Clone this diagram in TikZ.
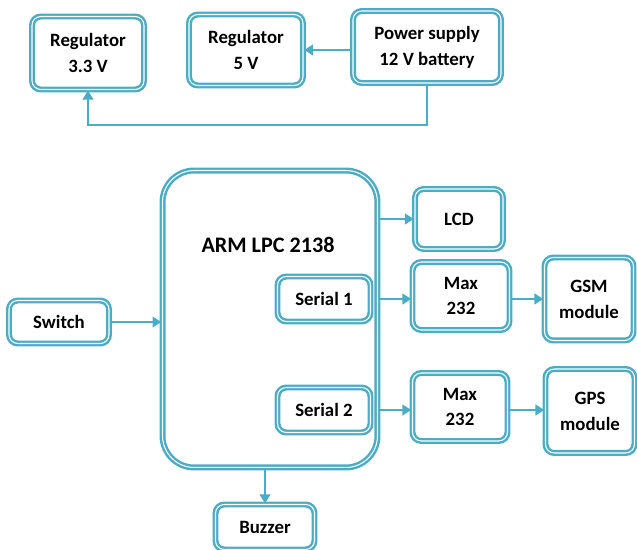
\documentclass[tikz,border=0pt]{standalone}
\usepackage{fontspec}
\setmainfont{Carlito}
\usetikzlibrary{arrows.meta}
\definecolor{boxteal}{RGB}{75,172,198}
\begin{document}
\begin{tikzpicture}[x=0.02cm, y=-0.02cm, font=\fontsize{10.7}{14.7}\selectfont\bfseries,
  blk/.style={draw=boxteal, line width=1.4pt, double=white, double distance=0.6pt, rounded corners=5pt, align=center, inner sep=0pt},
  arr/.style={draw=boxteal, line width=1.5pt, -{Triangle[length=5pt,width=6pt]}}]
\useasboundingbox (0,0) rectangle (637,550);
\node[blk, minimum width=2.24cm, minimum height=1.46cm] (r33) at (88,53) {Regulator\\3.3 V};
\node[blk, minimum width=2.28cm, minimum height=1.42cm] (r5) at (246,50) {Regulator\\5 V};
\node[blk, minimum width=2.96cm, minimum height=1.44cm] (ps) at (427,47) {Power supply\\12 V battery};
\node[blk, rounded corners=18pt, minimum width=4.30cm, minimum height=5.94cm] (arm) at (270,319) {};
\node[font=\fontsize{12.6}{15}\selectfont\bfseries] (armtxt) at (268,245) {ARM LPC 2138};
\node[blk, minimum width=1.86cm, minimum height=0.90cm] (s1) at (324,299) {Serial 1};
\node[blk, minimum width=1.86cm, minimum height=0.90cm] (s2) at (324,410) {Serial 2};
\node[blk, minimum width=2.00cm, minimum height=0.86cm] (sw) at (59,322) {Switch};
\node[blk, minimum width=1.98cm, minimum height=0.90cm] (bz) at (265,527) {Buzzer};
\node[blk, minimum width=1.76cm, minimum height=1.20cm] (lcd) at (459,219) {LCD};
\node[blk, minimum width=1.94cm, minimum height=1.36cm] (m1) at (461,296) {Max\\232};
\node[blk, minimum width=1.78cm, minimum height=1.66cm] (gsm) at (589,299) {GSM\\module};
\node[blk, minimum width=1.90cm, minimum height=1.36cm] (m2) at (460,407) {Max\\232};
\node[blk, minimum width=1.78cm, minimum height=1.68cm] (gps) at (590,411) {GPS\\module};
\coordinate (bus) at (88,125);
\draw[arr] (ps.west |- r5) -- (r5.east);
\draw[arr] (ps.south) |- (bus) -- (r33.south);
\draw[arr] (sw) -- (arm.west |- sw);
\draw[arr] (bz |- arm.south) -- (bz);
\draw[arr] (arm.east |- lcd) -- (lcd);
\draw[arr] (arm.east |- s1) -- (m1.west |- s1);
\draw[arr] (m1.east |- s1) -- (gsm.west |- s1);
\draw[arr] (arm.east |- s2) -- (m2.west |- s2);
\draw[arr] (m2.east |- s2) -- (gps.west |- s2);
\end{tikzpicture}
\end{document}
